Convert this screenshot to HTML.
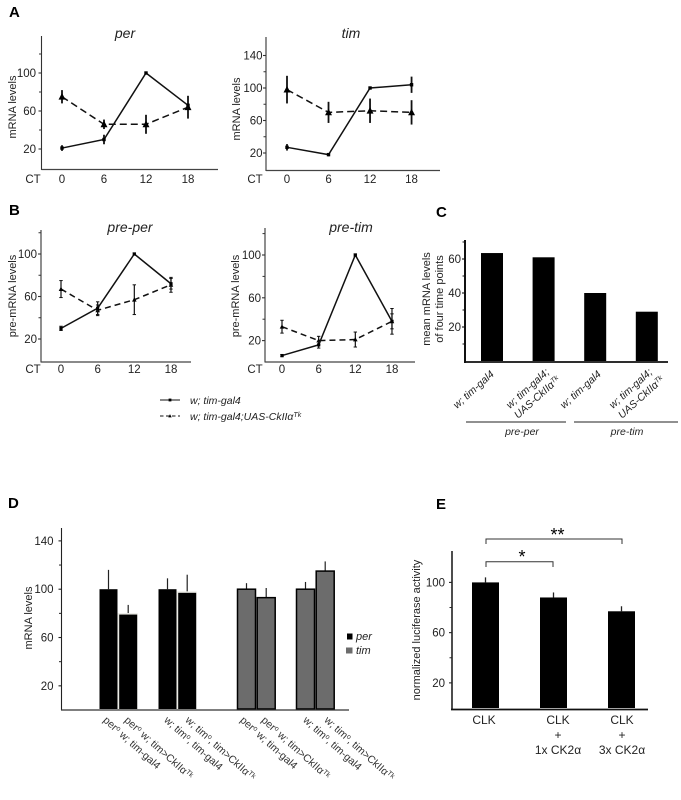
<!DOCTYPE html>
<html lang="en">
<head>
<meta charset="utf-8">
<title>Multi-panel mRNA figure</title>
<style>
html,body{margin:0;padding:0;background:#fff;width:681px;height:800px;overflow:hidden}
svg{display:block;filter:blur(0.3px)}
text{font-family:"Liberation Sans",sans-serif;fill:#222}
</style>
</head>
<body>
<svg id="fig" xmlns="http://www.w3.org/2000/svg" width="681" height="800" viewBox="0 0 681 800">
<rect width="681" height="800" fill="#fff"/>
</svg>
<script>
// Shared time points
const timePoints = [0, 6, 12, 18];

// Panel A per
const perSolid = [21, 30, 100, 66];
const perSolidErr = [3, 5, 1, 2];
const perDashed = [75, 46, 46, 64];
const perDashedErr = [7, 5, 10, 12];

// Panel A tim
const timSolid = [27, 18, 100, 104];
const timSolidErr = [4, 2, 1, 10];
const timDashed = [98, 70, 72, 70];
const timDashedErr = [17, 13, 15, 15];

// Panel B pre-per
const prePerSolid = [30, 49, 100, 72];
const prePerSolidErr = [2, 6, 1, 5];
const prePerDashed = [67, 47, 57, 71];
const prePerDashedErr = [8, 5, 14, 7];

// Panel B pre-tim
const preTimSolid = [6, 16, 100, 38];
const preTimSolidErr = [1, 3, 1, 7];
const preTimDashed = [33, 20, 21, 38];
const preTimDashedErr = [6, 4, 7, 12];

// Panel C
const meanValues = [63.5, 61, 40, 29];
const meanTicks = [20, 40, 60];
const meanMinorTicks = [10, 30, 50, 70];

// Panel D
const dLabels = [
  'per<tspan dy="-3" font-size="7">o</tspan><tspan dy="3"> w; tim-gal4</tspan>',
  'per<tspan dy="-3" font-size="7">o</tspan><tspan dy="3"> w; tim&gt;CkII\u03b1</tspan><tspan dy="-3" font-size="7">Tk</tspan>',
  'w; tim<tspan dy="-3" font-size="7">o</tspan><tspan dy="3">, tim-gal4</tspan>',
  'w; tim<tspan dy="-3" font-size="7">o</tspan><tspan dy="3">, tim&gt;CkII\u03b1</tspan><tspan dy="-3" font-size="7">Tk</tspan>',
  'per<tspan dy="-3" font-size="7">o</tspan><tspan dy="3"> w; tim-gal4</tspan>',
  'per<tspan dy="-3" font-size="7">o</tspan><tspan dy="3"> w; tim&gt;CkII\u03b1</tspan><tspan dy="-3" font-size="7">Tk</tspan>',
  'w; tim<tspan dy="-3" font-size="7">o</tspan><tspan dy="3">, tim-gal4</tspan>',
  'w; tim<tspan dy="-3" font-size="7">o</tspan><tspan dy="3">, tim&gt;CkII\u03b1</tspan><tspan dy="-3" font-size="7">Tk</tspan>'
];
const dValues = [100, 79, 100, 97, 100, 93, 100, 115];
const dErrors = [16, 8, 9, 15, 5, 8, 6, 8];
const dSeries = ['per', 'per', 'per', 'per', 'tim', 'tim', 'tim', 'tim'];
const dTicks = [20, 60, 100, 140];
const dMinorTicks = [40, 80, 120];

// Panel E
const eValues = [100, 88, 77];
const eErrors = [4, 4, 4];
const eTicks = [20, 60, 100];
const eMinorTicks = [40, 80];

const svg = document.getElementById('fig');
const NS = 'http://www.w3.org/2000/svg';

function make(parent, tag, attrs, txt) {
  const el = document.createElementNS(NS, tag);
  for (const k in attrs) el.setAttribute(k, attrs[k]);
  if (txt !== undefined) el.textContent = txt;
  parent.appendChild(el);
  return el;
}
function line(parent, x1, y1, x2, y2, color, w, dash) {
  const a = {x1: x1, y1: y1, x2: x2, y2: y2, stroke: color, 'stroke-width': w};
  if (dash) a['stroke-dasharray'] = dash;
  return make(parent, 'line', a);
}
function panelGroup(name) {
  const g = make(svg, 'g', {});
  
  
  return g;
}
function panelLetter(letter, x, y) {
  const t = make(svg, 'text', {x: x, y: y, 'font-size': 15, 'font-weight': 'bold', style: 'fill:#000'}, letter);
  
  
}
function yLabel(g, txt, x, y, size) {
  const t = make(g, 'text', {x: 0, y: 0, 'font-size': size || 11, 'text-anchor': 'middle',
    transform: 'translate(' + x + ',' + y + ') rotate(-90)'}, txt);
  
  
}
function yAxis(g, ax, top, bottom, yFn, ticks, minor, w, color, tickLen, labelGap) {
  const axis = line(g, ax, top, ax, bottom, color, w);
  
  
  ticks.forEach(function (v) {
    const tk = line(g, ax - tickLen, yFn(v), ax, yFn(v), color, 1.1);
    
    
    const lb = make(g, 'text', {x: ax - labelGap, y: yFn(v) + 4, 'font-size': 11.5, 'text-anchor': 'end'}, String(v));
    
    
  });
  minor.forEach(function (v) {
    const tk = line(g, ax - tickLen + 0.5, yFn(v), ax, yFn(v), color, 1);
    
    
  });
}
function marker(g, kind, x, y, size) {
  if (kind === 'solid') {
    const m = make(g, 'rect', {x: x - size, y: y - size, width: size * 2, height: size * 2, fill: '#000'});
    
    
  } else {
    const m = make(g, 'path', {d: 'M' + x + ' ' + (y - size * 1.3) + 'L' + (x + size * 1.2) + ' ' + (y + size) + 'L' + (x - size * 1.2) + ' ' + (y + size) + 'Z', fill: '#000'});
    
    
  }
}
function drawSeries(g, kind, values, errs, xFn, yFn, o) {
  const pts = values.map(function (v, i) { return xFn(timePoints[i]) + ',' + yFn(v); }).join(' ');
  const poly = make(g, 'polyline', {points: pts, fill: 'none', stroke: '#111', 'stroke-width': 1.5,
    'stroke-dasharray': kind === 'solid' ? 'none' : o.dash});
  
  
  values.forEach(function (v, i) {
    const x = xFn(timePoints[i]);
    const e = line(g, x, yFn(v + errs[i]), x, yFn(v - errs[i]), '#111', o.errW);
    
    
    if (o.cap) {
      [v + errs[i], v - errs[i]].forEach(function (c) {
        const cp = line(g, x - o.cap, yFn(c), x + o.cap, yFn(c), '#111', 1);
        
        
      });
    }
    marker(g, kind, x, yFn(v), kind === 'solid' ? o.solidSize : o.triSize);
  });
}
function lineChart(c) {
  const g = panelGroup(c.name);
  const xFn = function (t) { return c.x0 + t * c.xStep; };
  const yFn = function (v) { return c.y0 - v * c.k; };
  const title = make(g, 'text', {x: c.titleX, y: c.titleY, 'font-size': 14, 'font-style': 'italic', 'text-anchor': 'middle'}, c.title);
  
  
  yLabel(g, c.ylabel, c.ylabelX, c.ylabelY, 11);
  yAxis(g, c.ax, c.top, c.bottom + 0.5, yFn, c.ticks, c.minor, 1.1, '#333', 3, c.labelGap);
  const xa = line(g, c.ax, c.bottom, c.xEnd, c.bottom, '#444', 1.3);
  
  
  const ct = make(g, 'text', {x: c.ctX, y: c.labelY, 'font-size': 11.5, 'text-anchor': 'middle'}, 'CT');
  
  
  timePoints.forEach(function (t) {
    const lb = make(g, 'text', {x: xFn(t), y: c.labelY, 'font-size': 11.5, 'text-anchor': 'middle'}, String(t));
    
    
  });
  drawSeries(g, 'dashed', c.dashed, c.dashedErr, xFn, yFn, c.style);
  drawSeries(g, 'solid', c.solid, c.solidErr, xFn, yFn, c.style);
}

const styleA = {errW: 1.8, cap: 0, solidSize: 1.7, triSize: 2.9, dash: '7 4'};
const styleB = {errW: 1.2, cap: 1.7, solidSize: 1.6, triSize: 1.9, dash: '6 4'};

panelLetter('A', 9, 17);
lineChart({name: 'per-chart', title: 'per', titleX: 125, titleY: 38, ylabel: 'mRNA levels', ylabelX: 16, ylabelY: 107,
  ax: 41.5, top: 36, bottom: 169.5, xEnd: 218, x0: 62, xStep: 7, y0: 168, k: 0.95, ctX: 33, labelY: 183, labelGap: 5.5,
  ticks: [20, 60, 100], minor: [40, 80, 120], solid: perSolid, solidErr: perSolidErr, dashed: perDashed, dashedErr: perDashedErr, style: styleA});
lineChart({name: 'tim-chart', title: 'tim', titleX: 351, titleY: 38, ylabel: 'mRNA levels', ylabelX: 240, ylabelY: 109,
  ax: 266, top: 37, bottom: 170.5, xEnd: 440, x0: 287, xStep: 6.92, y0: 169.25, k: 0.8125, ctX: 255, labelY: 183, labelGap: 3.5,
  ticks: [20, 60, 100, 140], minor: [40, 80, 120], solid: timSolid, solidErr: timSolidErr, dashed: timDashed, dashedErr: timDashedErr, style: styleA});

panelLetter('B', 9, 215);
lineChart({name: 'pre-per-chart', title: 'pre-per', titleX: 130, titleY: 232, ylabel: 'pre-mRNA levels', ylabelX: 16, ylabelY: 296,
  ax: 41, top: 230, bottom: 362, xEnd: 191, x0: 61, xStep: 6.11, y0: 360.25, k: 1.0625, ctX: 33, labelY: 373, labelGap: 4,
  ticks: [20, 60, 100], minor: [40, 80, 120], solid: prePerSolid, solidErr: prePerSolidErr, dashed: prePerDashed, dashedErr: prePerDashedErr, style: styleB});
lineChart({name: 'pre-tim-chart', title: 'pre-tim', titleX: 351, titleY: 232, ylabel: 'pre-mRNA levels', ylabelX: 239, ylabelY: 296,
  ax: 265, top: 228, bottom: 362, xEnd: 415, x0: 282, xStep: 6.11, y0: 362, k: 1.07, ctX: 255, labelY: 373, labelGap: 4,
  ticks: [20, 60, 100], minor: [40, 80, 120], solid: preTimSolid, solidErr: preTimSolidErr, dashed: preTimDashed, dashedErr: preTimDashedErr, style: styleB});

// Legend for line charts
(function () {
  const g = panelGroup('line-legend');
  const l1 = line(g, 160, 400, 180, 400, '#111', 1);
  
  
  marker(g, 'solid', 170, 400, 1.4);
  const t1 = make(g, 'text', {x: 190, y: 404, 'font-size': 10.5, 'font-style': 'italic'}, 'w; tim-gal4');
  
  
  const l2 = line(g, 160, 416, 180, 416, '#111', 1, '3.5 2.5');
  
  
  marker(g, 'dashed', 170, 416, 1.4);
  const t2 = make(g, 'text', {x: 190, y: 420, 'font-size': 10.5, 'font-style': 'italic'});
  t2.innerHTML = 'w; tim-gal4;UAS-CkII\u03b1<tspan dy="-3" font-size="7">Tk</tspan>';
  
  
})();

// Panel C
panelLetter('C', 436, 217);
(function () {
  const g = panelGroup('mean-levels-chart');
  const y0 = 361, k = 1.7;
  const yFn = function (v) { return y0 - v * k; };
  const xFn = function (i) { return 492 + i * 51.6; };
  yLabel(g, 'mean mRNA levels', 430, 299, 11);
  yLabel(g, 'of four time points', 443, 299, 11);
  meanValues.forEach(function (v, i) {
    const b = make(g, 'rect', {x: xFn(i) - 11, y: yFn(v), width: 22, height: v * k, fill: '#000'});
    
    
  });
  yAxis(g, 465, 240, 363, yFn, meanTicks, meanMinorTicks, 2, '#111', 3, 4);
  const xa = line(g, 464, 362, 668, 362, '#111', 1.8);
  
  
  const labs = [
    [457, 409, 'w; tim-gal4'],
    [510, 409, 'w; tim-gal4;'],
    [518, 419, 'UAS-CkII\u03b1<tspan dy="-3" font-size="7">Tk</tspan>'],
    [564, 409, 'w; tim-gal4'],
    [613, 409, 'w; tim-gal4;'],
    [622, 419, 'UAS-CkII\u03b1<tspan dy="-3" font-size="7">Tk</tspan>']
  ];
  labs.forEach(function (l) {
    const t = make(g, 'text', {x: 0, y: 0, 'font-size': 10.5, 'font-style': 'italic',
      transform: 'translate(' + l[0] + ',' + l[1] + ') rotate(-42)'});
    t.innerHTML = l[2];
    
    
  });
  const u1 = line(g, 466, 422, 566, 422, '#222', 0.9);
  
  
  const u2 = line(g, 574, 422, 678, 422, '#222', 0.9);
  
  
  const p1 = make(g, 'text', {x: 522, y: 435, 'font-size': 10.5, 'font-style': 'italic', 'text-anchor': 'middle'}, 'pre-per');
  
  
  const p2 = make(g, 'text', {x: 627, y: 435, 'font-size': 10.5, 'font-style': 'italic', 'text-anchor': 'middle'}, 'pre-tim');
  
  
})();

// Panel D
panelLetter('D', 8, 508);
(function () {
  const g = panelGroup('genotype-chart');
  const y0 = 710, k = 1.208;
  const yFn = function (v) { return y0 - v * k; };
  const clusterNudge = [3, 5, 2, 6];
  // bar slots: two-bar clusters separated by gaps
  const xFn = function (i) {
    const cluster = Math.floor(i / 2);
    const gapAfterSecond = cluster >= 2 ? 20 : 0;
    return 108.5 + cluster * 59 + (i % 2) * 19.7 + gapAfterSecond;
  };
  yLabel(g, 'mRNA levels', 32, 618, 11);
  dValues.forEach(function (v, i) {
    const x = xFn(i);
    const e = line(g, x, yFn(v + dErrors[i]), x, yFn(v), '#222', 1.2);
    
    
    const isTim = dSeries[i] === 'tim';
    if (!isTim && i % 2 === 1) {
      const halo = make(g, 'rect', {x: x - 10.5, y: yFn(v) - 1.5, width: 20, height: v * k + 1.5, fill: '#ecece6'});
      
      
    }
    const b = make(g, 'rect', {x: x - 9, y: yFn(v), width: 18, height: v * k - 1,
      fill: isTim ? '#6c6c6c' : '#000', stroke: '#000', 'stroke-width': isTim ? 1.5 : 0});
    
    
    const lb = make(g, 'text', {x: 0, y: 0, 'font-size': 10.5, style: 'fill:#333',
      transform: 'translate(' + (x - 9 + (i % 2) * 1.5 + clusterNudge[Math.floor(i / 2)]) + ',' + 721 + ') rotate(42)'});
    lb.innerHTML = dLabels[i];
    
    
  });
  yAxis(g, 61.5, 528, 710, yFn, dTicks, dMinorTicks, 1.1, '#222', 3, 8);
  const xa = line(g, 61, 710, 349, 710, '#333', 1.2);
  
  
  const s1 = make(g, 'rect', {x: 347, y: 633.5, width: 5.5, height: 6, fill: '#000'});
  
  
  const t1 = make(g, 'text', {x: 356, y: 640, 'font-size': 11, 'font-style': 'italic'}, 'per');
  
  
  const s2 = make(g, 'rect', {x: 346, y: 647.5, width: 6.5, height: 6, fill: '#6c6c6c'});
  
  
  const t2 = make(g, 'text', {x: 356, y: 654, 'font-size': 11, 'font-style': 'italic'}, 'tim');
  
  
})();

// Panel E
panelLetter('E', 436, 509);
(function () {
  const g = panelGroup('luciferase-chart');
  const y0 = 708, k = 1.256;
  const yFn = function (v) { return y0 - v * k; };
  const xFn = function (i) { return 485.5 + i * 68; };
  yLabel(g, 'normalized luciferase activity', 420, 630, 11);
  eValues.forEach(function (v, i) {
    const x = xFn(i);
    const e = line(g, x, yFn(v + eErrors[i]), x, yFn(v), '#222', 1.3);
    
    
    const b = make(g, 'rect', {x: x - 13.5, y: yFn(v), width: 27, height: v * k, fill: '#000'});
    
    
  });
  yAxis(g, 452, 551, 710, yFn, eTicks, eMinorTicks, 1.6, '#222', 3, 7);
  const xa = line(g, 451, 709.5, 648, 709.5, '#111', 1.8);
  
  
  const br1 = make(g, 'path', {d: 'M486 567V561.7H553V567', fill: 'none', stroke: '#333', 'stroke-width': 1});
  
  
  const br2 = make(g, 'path', {d: 'M486 544V539H622V544', fill: 'none', stroke: '#333', 'stroke-width': 1});
  
  
  const st1 = make(g, 'text', {x: 522, y: 563, 'font-size': 18, 'text-anchor': 'middle', style: 'fill:#000'}, '*');
  
  
  const st2 = make(g, 'text', {x: 557.5, y: 541, 'font-size': 18, 'text-anchor': 'middle', style: 'fill:#000'}, '**');
  
  
  const labs = [[484, 724, 'CLK'], [558, 724, 'CLK'], [558, 739, '+'], [558, 754, '1x CK2\u03b1'],
                [622, 724, 'CLK'], [622, 739, '+'], [622, 754, '3x CK2\u03b1']];
  labs.forEach(function (l) {
    const t = make(g, 'text', {x: l[0], y: l[1], 'font-size': 12, 'text-anchor': 'middle'}, l[2]);
    
    
  });
})();
</script>
</body>
</html>
